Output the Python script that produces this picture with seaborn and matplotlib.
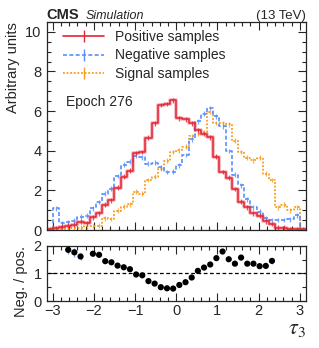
import numpy as np
import pandas as pd
import matplotlib

matplotlib.use("Agg")
import matplotlib.pyplot as plt
from matplotlib.lines import Line2D
from matplotlib.ticker import MultipleLocator
import seaborn as sns

# --- data (42 bins of width 0.15 from -3.15 to 3.15) ---
BIN_LO, BIN_W, N_BINS = -3.15, 0.15, 42

positive = [0.03, 0.08, 0.17, 0.21, 0.27, 0.42, 0.34, 0.64, 0.85, 1.27,
            1.49, 2.13, 2.70, 3.00, 3.89, 3.94, 4.65, 5.38, 6.31, 6.36,
            6.54, 5.63, 5.58, 5.38, 5.04, 4.85, 4.67, 3.70, 2.93, 2.64,
            2.07, 1.43, 1.15, 0.85, 0.73, 0.44, 0.30, 0.12, 0.12, 0.05,
            0.05, 0.05]
negative = [0.00, 1.10, 0.34, 0.39, 0.48, 0.68, 0.72, 1.09, 1.42, 1.83,
            2.09, 2.73, 3.29, 3.45, 3.73, 3.66, 3.35, 3.39, 3.16, 2.93,
            2.95, 3.27, 3.79, 4.57, 5.49, 5.87, 6.16, 5.74, 5.24, 3.99,
            2.80, 2.25, 1.55, 1.15, 0.92, 0.60, 0.50, 0.50, 0.50, 0.55,
            0.75, 0.00]
signal = [0.00, 0.03, 0.05, 0.06, 0.10, 0.12, 0.18, 0.20, 0.22, 0.60,
          0.56, 0.98, 1.18, 1.30, 1.93, 1.83, 2.52, 2.70, 3.10, 3.50,
          3.94, 4.03, 4.20, 4.75, 4.85, 4.95, 5.95, 5.40, 5.38, 5.33,
          4.50, 3.94, 3.65, 3.52, 3.65, 2.84, 2.52, 1.15, 1.28, 1.00,
          1.15, 0.00]
hist_err = {"positive": 0.12, "negative": 0.12, "signal": 0.12}

nan = np.nan
ratio = [nan, nan, nan, 1.85, 1.76, 1.61, nan, 1.71, 1.67, 1.44,
         1.40, 1.28, 1.22, 1.15, 0.96, 0.93, 0.72, 0.63, 0.50, 0.46,
         0.45, 0.58, 0.68, 0.85, 1.09, 1.21, 1.32, 1.55, 1.79, 1.51,
         1.35, 1.57, 1.35, 1.35, 1.26, 1.27, 1.45, nan, nan, nan,
         nan, nan]
ratio_err = [0, 0, 0, 0.16, 0.16, 0.12, 0, 0.10, 0.09, 0.06,
             0.06, 0.05, 0.05, 0.05, 0.04, 0.04, 0.03, 0.03, 0.03, 0.03,
             0.03, 0.03, 0.03, 0.03, 0.04, 0.04, 0.04, 0.04, 0.05, 0.05,
             0.05, 0.06, 0.06, 0.06, 0.07, 0.08, 0.10, 0, 0, 0,
             0, 0]

RED, BLUE, ORANGE = "#e42536", "#5790fc", "#f89c20"

edges = BIN_LO + BIN_W * np.arange(N_BINS + 1)
centers = edges[:-1] + BIN_W / 2
df = pd.DataFrame({"tau3": centers, "positive": positive,
                   "negative": negative, "signal": signal, "ratio": ratio,
                   "ratio_err": ratio_err})

sns.set_theme(style="ticks")
plt.rcParams["font.family"] = ["Liberation Sans", "DejaVu Sans"]
plt.rcParams["mathtext.fontset"] = "stix"

fig = plt.figure(figsize=(3.19, 3.48), dpi=100)
ax = fig.add_axes([0.146, 0.339, 0.813, 0.598])
rax = fig.add_axes([0.146, 0.135, 0.813, 0.159])

DASH = (0, (2.4, 1.4))
DOT = (0, (1.0, 1.0))

hist_kw = dict(binwidth=BIN_W, binrange=(edges[0], edges[-1]),
               element="step", fill=False)
series = [("signal", ORANGE, DOT, 1.3), ("negative", BLUE, DASH, 1.2),
          ("positive", RED, "-", 1.1)]
for name, col, ls, lw in series:
    if name == "positive":
        sns.histplot(data=df, x="tau3", weights=name, color=col, linewidth=2.6,
                     alpha=0.35, ax=ax, **hist_kw)
    sns.histplot(data=df, x="tau3", weights=name, color=col, linestyle=ls,
                 linewidth=lw, ax=ax, **hist_kw)
    mask = df[name] > 0
    ax.errorbar(df.loc[mask, "tau3"], df.loc[mask, name], yerr=hist_err[name],
                fmt="none", ecolor=col, elinewidth=0.9, alpha=0.8)

ax.set_xlim(edges[0], edges[-1])
ax.set_ylim(0, 10.5)
ax.set_xlabel("")
ax.set_ylabel("Arbitrary units", fontsize=10.5, loc="top", labelpad=4)
ax.tick_params(labelbottom=False)

handles = [Line2D([], [], color=RED, ls="-", lw=1.2, marker="|", ms=9, mew=1),
           Line2D([], [], color=BLUE, ls=DASH, lw=1.2, marker="|", ms=9, mew=1),
           Line2D([], [], color=ORANGE, ls=DOT, lw=1.3, marker="|", ms=9, mew=1)]
ax.legend(handles, ["Positive samples", "Negative samples", "Signal samples"],
          loc="upper left", bbox_to_anchor=(0.03, 1.0), frameon=False,
          fontsize=10, handlelength=3.0, handletextpad=0.8, labelspacing=0.3,
          borderaxespad=0.2)
ax.text(0.075, 0.615, "Epoch 276", transform=ax.transAxes, fontsize=10,
        ha="left", va="center")

fig.text(0.146, 0.944, "CMS", fontsize=10.5, fontweight="bold", ha="left",
         va="baseline")
fig.text(0.268, 0.944, "Simulation", fontsize=9, style="italic", ha="left",
         va="baseline")
fig.text(0.959, 0.944, "(13 TeV)", fontsize=9.5, ha="right", va="baseline")

# ratio panel
rax.errorbar(df["tau3"], df["ratio"], yerr=df["ratio_err"], xerr=BIN_W * 0.3,
             fmt="none", ecolor=BLUE, elinewidth=1.0, alpha=0.8)
sns.scatterplot(data=df, x="tau3", y="ratio", color="black", s=20,
                edgecolor="none", ax=rax, zorder=3)
rax.axhline(1, color="black", ls=(0, (3, 2)), lw=0.9)
rax.set_xlim(edges[0], edges[-1])
rax.set_ylim(0, 2)
rax.set_ylabel("Neg. / pos.", fontsize=10.5, loc="top", labelpad=4)
rax.set_xlabel(r"$\tau_3$", fontsize=16, loc="right", labelpad=0)

for a in (ax, rax):
    a.xaxis.set_major_locator(MultipleLocator(1))
    a.xaxis.set_minor_locator(MultipleLocator(0.2))
    a.tick_params(which="both", direction="in", top=True, right=True,
                  labelsize=10.5, width=0.8)
    a.tick_params(which="major", length=6)
    a.tick_params(which="minor", length=3)
    for sp in a.spines.values():
        sp.set_linewidth(0.9)
        sp.set_visible(True)
ax.yaxis.set_major_locator(MultipleLocator(2))
ax.yaxis.set_minor_locator(MultipleLocator(0.5))
rax.yaxis.set_major_locator(MultipleLocator(1))
rax.yaxis.set_minor_locator(MultipleLocator(0.5))
rax.tick_params(axis="x", pad=2)

fig.savefig("out.png", dpi=100)
